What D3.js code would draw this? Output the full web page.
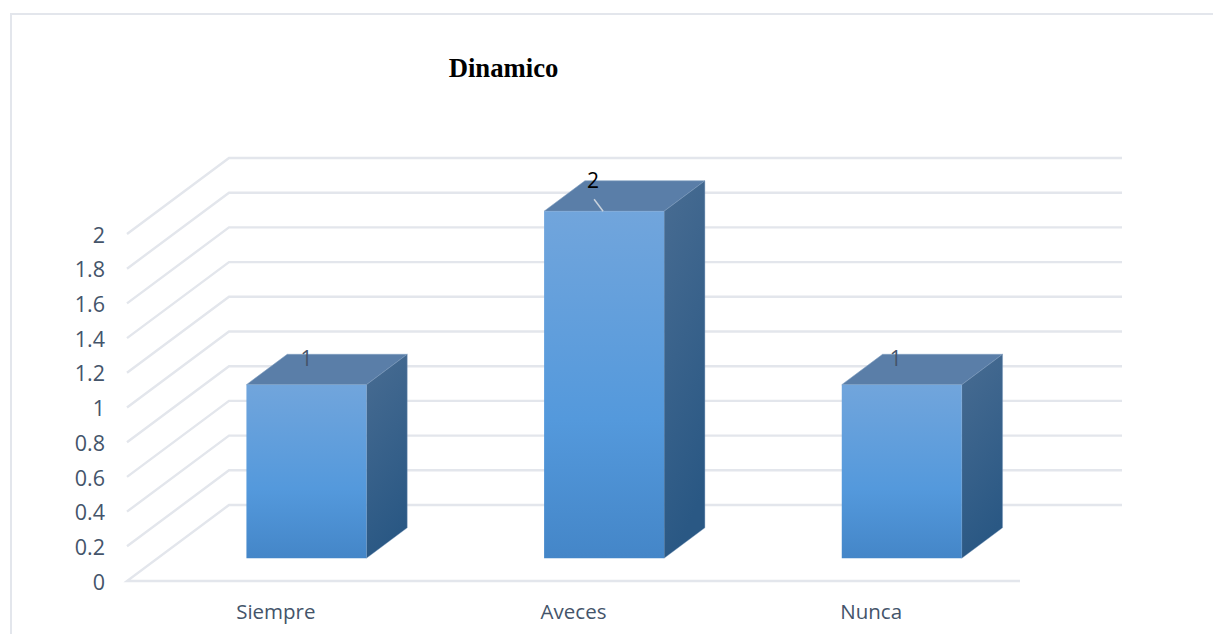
<!DOCTYPE html>
<html>
<head>
<meta charset="utf-8">
<script src="https://cdn.jsdelivr.net/npm/d3@7"></script>
<style>
  html, body { margin: 0; padding: 0; background: #fff; overflow: hidden; }
  text { font-family: "Open Sans", sans-serif; }
</style>
</head>
<body>
<script>
var categories = ["Siempre", "Aveces", "Nunca"];
var values = [1, 2, 1];
var tickValues = [0, 0.2, 0.4, 0.6, 0.8, 1, 1.2, 1.4, 1.6, 1.8, 2];
var chartTitle = "Dinamico";

var width = 1213, height = 634;

var svg = d3.select("body").append("svg")
  .attr("width", width)
  .attr("height", height);

var defs = svg.append("defs");

function gradient(id, x2, y2, stops) {
  var g = defs.append("linearGradient").attr("id", id)
    .attr("x1", 0).attr("y1", 0).attr("x2", x2).attr("y2", y2);
  stops.forEach(function(s) {
    g.append("stop").attr("offset", s[0]).attr("stop-color", s[1]);
  });
}
gradient("front", 0, 1, [[0, "#71a5dc"], [0.6, "#5499dc"], [1, "#4486c8"]]);
gradient("side", 0.25, 1, [[0, "#486c92"], [1, "#2a5884"]]);

// outer border: only the left and top edges show, the original is cropped
svg.append("path")
  .attr("d", "M11,634V14H1213")
  .attr("fill", "none")
  .attr("stroke", "#e3e6ec")
  .attr("stroke-width", 2);

svg.append("text")
  .attr("x", 503.5).attr("y", 77)
  .attr("text-anchor", "middle")
  .style("font-family", "'Liberation Serif', serif")
  .style("font-weight", "bold")
  .style("font-size", "26.7px")
  .attr("fill", "#000")
  .text(chartTitle);

var x = d3.scaleBand().domain(categories).range([127, 1020]);
var y = d3.scaleLinear().domain([0, 2]).range([581, 234]);

// oblique projection of the chart's depth axis
var depthX = 102, depthY = -76;
function project(px, py, d) {
  return [px + depthX * d, py + depthY * d];
}
var polygon = function(pts) { return "M" + pts.join("L") + "Z"; };

// gridlines on the side wall and the back wall
var grid = svg.append("g").attr("fill", "none").attr("stroke", "#e3e6ec").attr("stroke-width", 2.4);
tickValues.forEach(function(t) {
  var a = [x.range()[0], y(t)];
  var b = project(a[0], a[1], 1);
  var c = project(x.range()[1], a[1], 1);
  var pts = t === 0 ? [[x.range()[1], y(0)], a, b, c] : [a, b, c];
  grid.append("path").attr("d", d3.line()(pts));
});

// y axis labels
var yAxis = d3.axisLeft(y).tickValues(tickValues).tickSize(0).tickPadding(22).tickFormat(d3.format("~g"));
svg.append("g").attr("transform", "translate(127,0)").call(yAxis)
  .call(function(g) { g.select(".domain").remove(); })
  .selectAll("text")
  .attr("dy", "0.38em")
  .style("font-size", "21.5px")
  .style("font-family", "'Open Sans', sans-serif")
  .attr("fill", "#44546a");

// x axis labels
var xAxis = d3.axisBottom(x).tickSize(0).tickPadding(23);
svg.append("g").attr("transform", "translate(0,581)").call(xAxis)
  .call(function(g) { g.select(".domain").remove(); })
  .selectAll("text")
  .style("font-size", "20.5px")
  .style("font-family", "'Open Sans', sans-serif")
  .attr("fill", "#44546a");

// bars
var barW = 120, front = 0.3, back = 0.7;
var labelShift = [60, 49, 54];
var bars = svg.append("g").selectAll("g")
  .data(categories.map(function(c, i) { return { cat: c, value: values[i], shift: labelShift[i] }; }))
  .enter().append("g");

bars.each(function(d) {
  var g = d3.select(this);
  var cx = x(d.cat) + x.bandwidth() / 2;
  var l = cx - barW / 2, r = cx + barW / 2;
  var fl0 = project(l, y(0), front), fr0 = project(r, y(0), front);
  var fl1 = project(l, y(d.value), front), fr1 = project(r, y(d.value), front);
  var bl1 = project(l, y(d.value), back), br1 = project(r, y(d.value), back), br0 = project(r, y(0), back);

  g.append("path").attr("d", polygon([fl1, fr1, br1, bl1]))
    .attr("fill", "#5a7ea8").attr("stroke", "#7f9dc0").attr("stroke-width", 0.6);
  g.append("path").attr("d", polygon([fr1, br1, br0, fr0]))
    .attr("fill", "url(#side)").attr("stroke", "#7f9dc0").attr("stroke-width", 0.4);
  g.append("path").attr("d", polygon([fl1, fr1, fr0, fl0]))
    .attr("fill", "url(#front)");

  // the tall bar's label sits further left, with a small leader line
  var tall = d.value === d3.max(values);
  if (tall) {
    g.append("line")
      .attr("x1", fl1[0] + 50).attr("y1", fl1[1] - 12)
      .attr("x2", fl1[0] + 59).attr("y2", fl1[1])
      .attr("stroke", "#c9d2dc").attr("stroke-width", 1.5);
  }
  g.append("text")
    .attr("x", fl1[0] + d.shift)
    .attr("y", fl1[1] + (tall ? -23 : -19))
    .attr("text-anchor", "middle")
    .style("font-size", "21px")
    .attr("fill", tall ? "#000" : "#44546a")
    .text(d.value);
});
</script>
</body>
</html>
